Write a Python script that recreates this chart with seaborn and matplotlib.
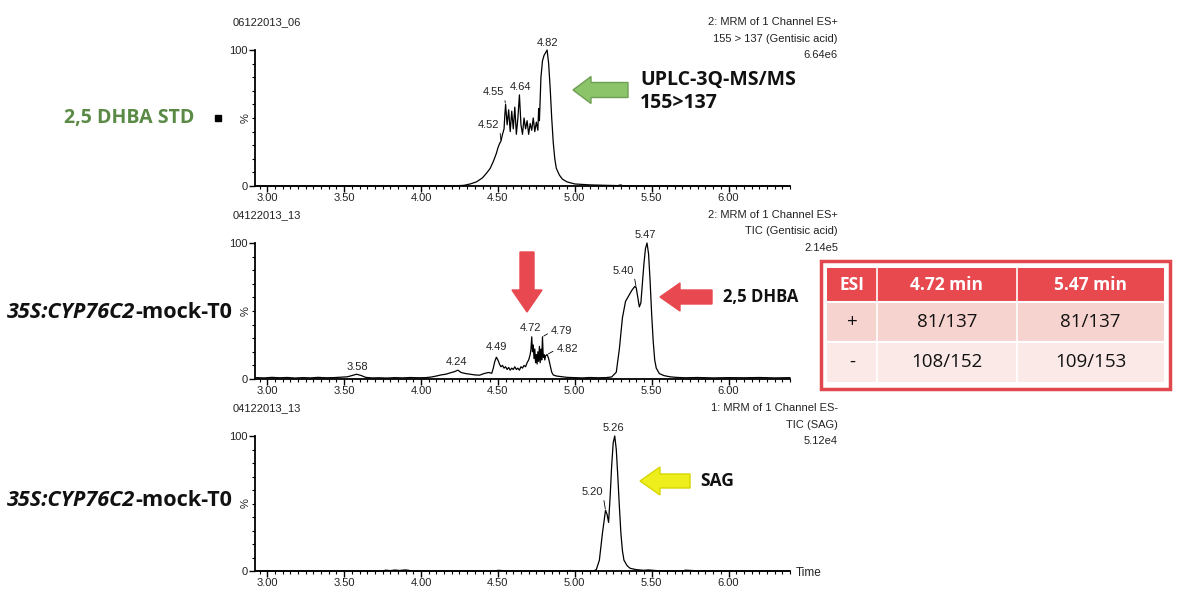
import numpy as np
import pandas as pd
import matplotlib
matplotlib.use("Agg")
import matplotlib.pyplot as plt
import matplotlib.patches as mpatches
import seaborn as sns

# chromatogram traces: (retention time [min], relative intensity [%])
std_trace = [
    (2.93, 0), (4.20, 0), (4.28, 0.5), (4.32, 1.5), (4.36, 3), (4.40, 6), (4.43, 10),
    (4.45, 13), (4.47, 18), (4.49, 24), (4.50, 28), (4.51, 31), (4.52, 33), (4.53, 38),
    (4.54, 42), (4.545, 52), (4.55, 60), (4.56, 45), (4.57, 56), (4.58, 40), (4.59, 55),
    (4.60, 42), (4.61, 58), (4.62, 38), (4.63, 50), (4.64, 67), (4.65, 45), (4.66, 38),
    (4.67, 50), (4.68, 42), (4.69, 48), (4.70, 38), (4.71, 46), (4.72, 41), (4.73, 50),
    (4.74, 40), (4.75, 47), (4.76, 41), (4.765, 57), (4.77, 48), (4.78, 80), (4.79, 92),
    (4.80, 96), (4.81, 98), (4.82, 100), (4.83, 90), (4.84, 72), (4.85, 50), (4.86, 32),
    (4.87, 20), (4.88, 13), (4.90, 8), (4.92, 5), (4.95, 3), (5.00, 1.5), (5.10, 0.8),
    (5.20, 0.5), (5.28, 0.3), (5.30, 0.8), (5.31, 0.2), (5.40, 0), (6.40, 0),
]

mock_trace = [
    (2.93, 1.0), (2.98, 0.8), (3.03, 1.2), (3.08, 0.9), (3.13, 1.1), (3.18, 0.7), (3.23, 1.0),
    (3.28, 0.8), (3.33, 1.2), (3.38, 0.9), (3.43, 1.0), (3.48, 1.3), (3.52, 1.6), (3.55, 2.5),
    (3.58, 3.5), (3.61, 2.6), (3.64, 1.2), (3.68, 0.8), (3.73, 0.9), (3.78, 0.7), (3.83, 1.0),
    (3.88, 0.8), (3.93, 1.1), (3.98, 0.9), (4.03, 1.0), (4.07, 1.5), (4.10, 2.2), (4.13, 3.0),
    (4.16, 3.5), (4.19, 4.5), (4.22, 5.5), (4.24, 6.5), (4.26, 4.8), (4.29, 4.0), (4.32, 3.5),
    (4.35, 3.0), (4.38, 2.8), (4.41, 4.0), (4.44, 4.8), (4.46, 4.2), (4.47, 8), (4.48, 13),
    (4.49, 16), (4.50, 14), (4.51, 11), (4.52, 9), (4.53, 10), (4.54, 8), (4.55, 9), (4.56, 7),
    (4.57, 8.5), (4.58, 6.5), (4.59, 8), (4.60, 7), (4.61, 9), (4.62, 7), (4.63, 8), (4.64, 6.5),
    (4.65, 9), (4.66, 8), (4.67, 10), (4.68, 9), (4.69, 12), (4.70, 14), (4.71, 18), (4.715, 22),
    (4.72, 31), (4.725, 20), (4.73, 25), (4.735, 15), (4.74, 22), (4.745, 12), (4.75, 18),
    (4.755, 11), (4.76, 20), (4.765, 13), (4.77, 24), (4.775, 12), (4.78, 22), (4.785, 14),
    (4.79, 31), (4.795, 16), (4.80, 18), (4.805, 14), (4.81, 17), (4.82, 18), (4.83, 15),
    (4.84, 10), (4.85, 5), (4.86, 3), (4.88, 2.2), (4.91, 1.8), (4.95, 1.2), (5.00, 1.0),
    (5.05, 0.8), (5.10, 1.1), (5.15, 0.9), (5.20, 1.0), (5.24, 1.5), (5.27, 5), (5.29, 22),
    (5.31, 45), (5.33, 57), (5.35, 61), (5.37, 65), (5.39, 68), (5.40, 67), (5.41, 60),
    (5.42, 53), (5.43, 56), (5.44, 70), (5.45, 85), (5.46, 96), (5.47, 100), (5.48, 92),
    (5.49, 72), (5.50, 48), (5.51, 28), (5.52, 14), (5.53, 8), (5.55, 4), (5.58, 2.5),
    (5.62, 1.6), (5.66, 1.2), (5.72, 0.9), (5.80, 1.1), (5.90, 0.8), (6.00, 1.0), (6.10, 0.9),
    (6.20, 1.1), (6.30, 0.8), (6.40, 1.0),
]

sag_trace = [
    (2.93, 0), (3.75, 0), (3.77, 0.6), (3.80, 0.3), (3.83, 0.7), (3.86, 0.4), (3.90, 0.8),
    (3.93, 0.3), (3.96, 0), (4.48, 0), (4.50, 0.5), (4.53, 0.3), (4.56, 0), (4.95, 0),
    (4.97, 0.4), (4.99, 0), (5.12, 0), (5.14, 1), (5.16, 8), (5.18, 28), (5.20, 45),
    (5.21, 42), (5.22, 36), (5.23, 55), (5.24, 78), (5.25, 95), (5.26, 100), (5.27, 90),
    (5.28, 70), (5.29, 48), (5.30, 28), (5.31, 15), (5.32, 8), (5.34, 4), (5.36, 2),
    (5.40, 1), (5.45, 0.5), (5.48, 0.8), (5.52, 0.4), (5.56, 0), (5.70, 0), (5.72, 0.6),
    (5.76, 0.4), (5.80, 0), (6.40, 0),
]

# labelled peaks per panel
std_peaks = [4.52, 4.55, 4.64, 4.82]
mock_peaks = [3.58, 4.24, 4.49, 4.72, 4.79, 4.82, 5.40, 5.47]
sag_peaks = [5.20, 5.26]

file_ids = ["06122013_06", "04122013_13", "04122013_13"]
headers = [
    ["2: MRM of 1 Channel ES+", "155 > 137 (Gentisic acid)", "6.64e6"],
    ["2: MRM of 1 Channel ES+", "TIC (Gentisic acid)", "2.14e5"],
    ["1: MRM of 1 Channel ES-", "TIC (SAG)", "5.12e4"],
]

table_cols = ["ESI", "4.72 min", "5.47 min"]
table_rows = [["+", "81/137", "81/137"], ["-", "108/152", "109/153"]]

sns.set_style("ticks")
plt.rcParams['font.family'] = ['Liberation Sans', 'DejaVu Sans']

W, H = 1183, 591
fig = plt.figure(figsize=(W / 100, H / 100), dpi=100)

# panel boxes in pixels: left, right, y of 100 %, y of 0 %
x_left, x_right = 255, 790
panel_y = [(50, 186), (243, 379), (436, 571)]
traces = [std_trace, mock_trace, sag_trace]

# label offsets in pixels (dx, dy) and whether a leader line is drawn
label_style = [
    {4.52: (-12, 16, True), 4.55: (-12, 12, True), 4.64: (1, 8, False), 4.82: (0, 7, False)},
    {3.58: (1, 7, False), 4.24: (-1, 8, False), 4.49: (0, 10, False), 4.72: (-1, 9, False),
     4.79: (19, 6, True), 4.82: (20, 6, True), 5.40: (-13, 17, True), 5.47: (-2, 8, False)},
    {5.20: (-13, 18, True), 5.26: (-1, 8, False)},
]
peak_lists = [std_peaks, mock_peaks, sag_peaks]

axes = []
for i, (ytop, ybot) in enumerate(panel_y):
    ax = fig.add_axes([x_left / W, 1 - ybot / H, (x_right - x_left) / W, (ybot - ytop) / H])
    axes.append(ax)
    df = pd.DataFrame(traces[i], columns=["time", "pct"])
    sns.lineplot(data=df, x="time", y="pct", ax=ax, color="black", lw=0.9,
                 estimator=None, sort=False)
    for ln in ax.lines:
        ln.set_clip_on(False)
    ax.set_xlim(2.92, 6.40)
    ax.set_ylim(0, 100)
    ax.set_xlabel("")
    ax.set_ylabel("")
    ax.patch.set_alpha(0)
    sns.despine(ax=ax)
    for s in ["left", "bottom"]:
        ax.spines[s].set_linewidth(1.3)
        ax.spines[s].set_color("black")
    major = np.arange(3.0, 6.01, 0.5)
    ax.set_xticks(major)
    ax.set_xticklabels([f"{v:.2f}" for v in major])
    ax.set_xticks(np.arange(2.95, 6.41, 0.05), minor=True)
    ax.set_yticks([0, 100])
    ax.set_yticklabels(["0", "100"])
    ax.set_yticks(np.arange(10, 100, 10), minor=True)
    ax.tick_params(axis="both", which="major", length=4, width=1, labelsize=8, pad=1,
                   colors="black", labelcolor="#222222")
    ax.tick_params(axis="both", which="minor", length=2.5, width=0.8, colors="black")
    ax.text(-0.017, 0.5, "%", transform=ax.transAxes, rotation=90, fontsize=8,
            ha="center", va="center", color="#222222")

    for t in peak_lists[i]:
        yv = np.interp(t, df["time"], df["pct"])
        dx, dy, leader = label_style[i][t]
        props = None
        if leader:
            rel = (1, 0.1) if dx < 0 else (0, 0.4)
            props = dict(arrowstyle="-", lw=0.6, color="black", shrinkA=0, shrinkB=1,
                         relpos=rel)
        ax.annotate(f"{t:.2f}", xy=(t, yv), xytext=(dx, dy), textcoords="offset pixels",
                    ha="center", va="center", fontsize=8, color="#222222",
                    arrowprops=props, annotation_clip=False)

# overlay in pixel coordinates for labels, arrows and the table
ov = fig.add_axes([0, 0, 1, 1])
ov.set_xlim(0, W)
ov.set_ylim(H, 0)
ov.axis("off")
ov.patch.set_alpha(0)

for i, (ytop, ybot) in enumerate(panel_y):
    ov.text(233, ytop - 28, file_ids[i], fontsize=8, color="#222222", ha="left", va="center")
    for k, line in enumerate(headers[i]):
        ov.text(838, ytop - 28 + 16.5 * k, line, fontsize=8, color="#222222",
                ha="right", va="center")
ov.text(796, 573, "Time", fontsize=8.5, color="#222222", ha="left", va="center")

bold_font = "Open Sans"
ov.text(129, 118, "2,5 DHBA STD", fontsize=14, fontweight="bold", color="#5a8a45",
        family=bold_font, ha="center", va="center")
ov.add_patch(mpatches.Rectangle((215, 115), 6, 6, color="black"))

for yc in [312, 501]:
    t1 = ov.text(7, yc, "35S:CYP76C2", fontsize=15.6, fontweight="bold", style="italic",
                 family=bold_font, ha="left", va="center", color="#111111")
    ov.annotate("-mock-T0", xy=(1, 0.5), xycoords=t1, fontsize=15.6, fontweight="bold",
                family=bold_font, ha="left", va="center", color="#111111")

# block arrows
ov.add_patch(mpatches.FancyArrow(628, 90, -55, 0, width=15, head_width=27, head_length=18,
                                 length_includes_head=True, fc="#8cc46a", ec="#6f9f55", lw=1))
ov.text(640, 80, "UPLC-3Q-MS/MS", fontsize=14, fontweight="bold", family=bold_font,
        ha="left", va="center", color="#111111")
ov.text(640, 103, "155>137", fontsize=14, fontweight="bold", family=bold_font,
        ha="left", va="center", color="#111111")

ov.add_patch(mpatches.FancyArrow(527, 252, 0, 60, width=14, head_width=30, head_length=22,
                                 length_includes_head=True, fc="#e8484f", ec="#e8484f", lw=1))
ov.add_patch(mpatches.FancyArrow(712, 297, -52, 0, width=14, head_width=28, head_length=20,
                                 length_includes_head=True, fc="#e8484f", ec="#e8484f", lw=1))
ov.text(723, 297, "2,5 DHBA", fontsize=12, fontweight="bold", family=bold_font,
        ha="left", va="center", color="#111111")

ov.add_patch(mpatches.FancyArrow(690, 481, -50, 0, width=14, head_width=28, head_length=20,
                                 length_includes_head=True, fc="#eeee1c", ec="#d6d600", lw=1))
ov.text(700, 481, "SAG", fontsize=12.5, fontweight="bold", family=bold_font,
        ha="left", va="center", color="#111111")

# ESI fragment table
ov.add_patch(mpatches.Rectangle((821, 261), 349, 128, fc="white", ec="#e0484e", lw=2.5))
col_x = [827, 877, 1017, 1164]
row_y = [268, 302, 342, 382]
row_fill = ["#e8494f", "#f7d3cf", "#fbe9e7"]
for r in range(3):
    ov.add_patch(mpatches.Rectangle((col_x[0], row_y[r]), col_x[-1] - col_x[0],
                                    row_y[r + 1] - row_y[r], fc=row_fill[r], ec="none"))
for r in [1, 2]:
    ov.plot([col_x[0], col_x[-1]], [row_y[r], row_y[r]], color="white", lw=1.5)
for c in [1, 2]:
    ov.plot([col_x[c], col_x[c]], [row_y[0], row_y[-1]], color="white", lw=1.2)

for c, txt in enumerate(table_cols):
    ov.text((col_x[c] + col_x[c + 1]) / 2, (row_y[0] + row_y[1]) / 2, txt, fontsize=12.5,
            fontweight="bold", family=bold_font, color="white", ha="center", va="center")
for r, row in enumerate(table_rows):
    for c, txt in enumerate(row):
        ov.text((col_x[c] + col_x[c + 1]) / 2, (row_y[r + 1] + row_y[r + 2]) / 2, txt,
                fontsize=13.5, family=bold_font, color="#111111", ha="center", va="center")

fig.savefig("out.png", dpi=100)
